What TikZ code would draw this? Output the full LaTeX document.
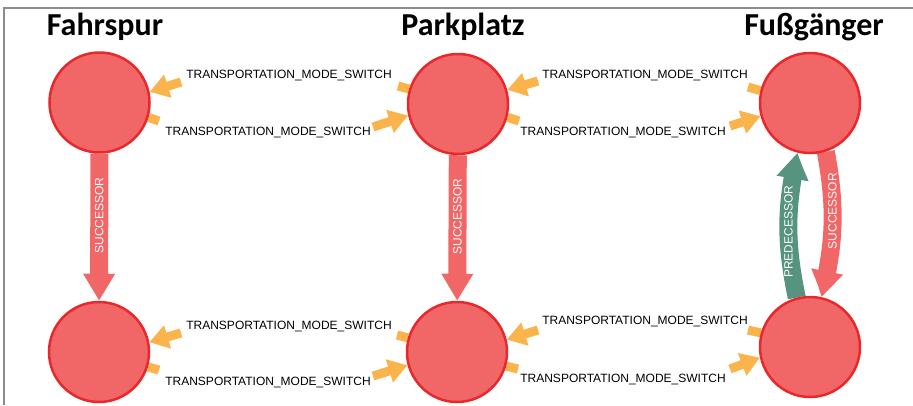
\documentclass[tikz,border=0pt]{standalone}
\usepackage{fontspec}
\setmainfont{Liberation Sans}
\newfontfamily\titlefont{Carlito}
\usetikzlibrary{arrows.meta,bending}
\definecolor{nodefill}{HTML}{F16667}
\definecolor{nodeedge}{HTML}{E8282A}
\definecolor{switchcol}{HTML}{FBB44C}
\definecolor{succcol}{HTML}{F16667}
\definecolor{predcol}{HTML}{569480}
\definecolor{framecol}{HTML}{8C8C8C}
\pgfdeclarelayer{bg}
\pgfsetlayers{bg,main}
\tikzset{
  state/.style={circle, minimum size=100pt, inner sep=0pt, fill=nodefill, draw=nodeedge, line width=2.5pt},
  heading/.style={font=\titlefont\bfseries\fontsize{32}{36}\selectfont, anchor=base, inner sep=0pt},
  tms/.style={draw=switchcol, line width=9pt},
  tmsarrow/.style={tms, -{Triangle[length=19pt,width=23pt]}},
  tmslabel/.style={font=\fontsize{12}{14}\selectfont, inner sep=0pt, text=black},
  bigarrow/.style={line width=18pt, -{Triangle[length=27pt,width=30pt,bend]}},
  arrlabel/.style={font=\fontsize{12}{14}\selectfont, text=white, rotate=90, inner sep=0pt}
}
\begin{document}
\begin{tikzpicture}[x=1pt,y=-1pt]
\useasboundingbox (0,0) rectangle (913,405);
\begin{pgfonlayer}{bg}
  \fill[white] (0,0) rectangle (913,405);
\end{pgfonlayer}
% frame lines at the top and left
\draw[framecol, line width=2pt] (4,405) -- (4,8) -- (913,8);

% column headings
\node[heading] (hfahr) at (105,35) {Fahrspur};
\node[heading] (hpark) at (463,35) {Parkplatz};
\node[heading] (hfuss) at (814,35) {Fußgänger};

% states
\node[state] (fl1) at (99.5,102.5) {};
\node[state] (pp1) at (458,104) {};
\node[state] (fg1) at (810,103) {};
\node[state] (fl2) at (99,352) {};
\node[state] (pp2) at (457,352) {};
\node[state] (fg2) at (810,347) {};

% free ends of the broken switch edges
\coordinate (a1) at (181,82);  \coordinate (s1) at (398,86);
\coordinate (a2) at (373,127); \coordinate (s2) at (159,121);
\coordinate (a3) at (538,81);  \coordinate (s3) at (748,87);
\coordinate (a4) at (730,126); \coordinate (s4) at (519,121);
\coordinate (a5) at (181,333); \coordinate (s5) at (397,335);
\coordinate (a6) at (373,376); \coordinate (s6) at (159,370);
\coordinate (a7) at (538,330); \coordinate (s7) at (748,330);
\coordinate (a8) at (730,369); \coordinate (s8) at (518,369);

\begin{pgfonlayer}{bg}
  % transportation mode switches, top row
  \draw[tms] (pp1.163) -- (s1);
  \draw[tmsarrow] (a1) -- (fl1.12);
  \draw[tms] (fl1.-17) -- (s2);
  \draw[tmsarrow] (a2) -- (pp1.193);
  \draw[tms] (fg1.166) -- (s3);
  \draw[tmsarrow] (a3) -- (pp1.16);
  \draw[tms] (pp1.-15) -- (s4);
  \draw[tmsarrow] (a4) -- (fg1.195);
  % transportation mode switches, bottom row
  \draw[tms] (pp2.164) -- (s5);
  \draw[tmsarrow] (a5) -- (fl2.11);
  \draw[tms] (fl2.-17) -- (s6);
  \draw[tmsarrow] (a6) -- (pp2.195);
  \draw[tms] (fg2.164) -- (s7);
  \draw[tmsarrow] (a7) -- (pp2.14);
  \draw[tms] (pp2.-16) -- (s8);
  \draw[tmsarrow] (a8) -- (fg2.192);

  % successor / predecessor links
  \draw[bigarrow, succcol] (fl1) -- node[arrlabel, pos=0.42] {SUCCESSOR} (fl2);
  \draw[bigarrow, succcol] (pp1) -- node[arrlabel, pos=0.42] {SUCCESSOR} (pp2);
  \draw[bigarrow, predcol] (fg2.105) to[bend left=12] node[arrlabel, pos=0.45] {PREDECESSOR} (fg1.-104);
  \draw[bigarrow, succcol] (fg1.-72) to[bend left=12] node[arrlabel, pos=0.4] {SUCCESSOR} (fg2.77);
\end{pgfonlayer}

% switch labels
\node[tmslabel] (t1) at (289,75)  {TRANSPORTATION\_MODE\_SWITCH};
\node[tmslabel] (t2) at (268,132) {TRANSPORTATION\_MODE\_SWITCH};
\node[tmslabel] (t3) at (645,75)  {TRANSPORTATION\_MODE\_SWITCH};
\node[tmslabel] (t4) at (623,132) {TRANSPORTATION\_MODE\_SWITCH};
\node[tmslabel] (t5) at (289,326) {TRANSPORTATION\_MODE\_SWITCH};
\node[tmslabel] (t6) at (268,382) {TRANSPORTATION\_MODE\_SWITCH};
\node[tmslabel] (t7) at (645,321) {TRANSPORTATION\_MODE\_SWITCH};
\node[tmslabel] (t8) at (623,379) {TRANSPORTATION\_MODE\_SWITCH};
\end{tikzpicture}
\end{document}
